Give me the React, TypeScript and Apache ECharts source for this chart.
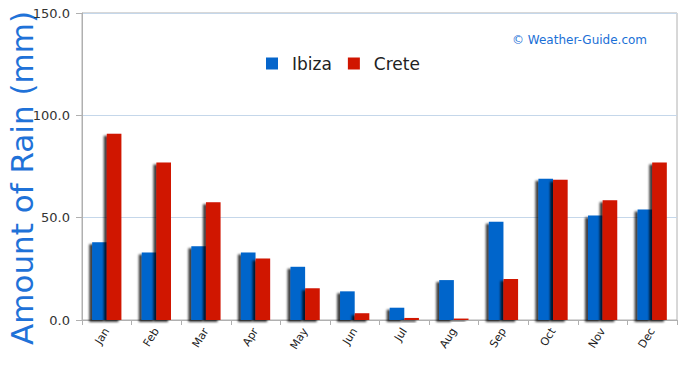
import React, { useEffect, useRef } from "react";
import * as echarts from "echarts";

const months = ["Jan", "Feb", "Mar", "Apr", "May", "Jun", "Jul", "Aug", "Sep", "Oct", "Nov", "Dec"];
const ibiza = [38, 33, 36, 33, 26, 14, 6, 19.5, 48, 69, 51, 54];
const crete = [91, 77, 57.5, 30, 15.5, 3.3, 1, 0.7, 20, 68.5, 58.5, 77];
const seriesNames = ["Ibiza", "Crete"];
const yTitle = "Amount of Rain (mm)";
const watermark = "© Weather-Guide.com";

const shadow = {
  shadowColor: "rgba(0,0,0,0.75)",
  shadowBlur: 2,
  shadowOffsetX: -3,
  shadowOffsetY: 2,
};

export default function App() {
  const ref = useRef<HTMLDivElement>(null);
  useEffect(() => {
    if (!ref.current) return;
    const chart = echarts.init(ref.current, null, { renderer: "svg" });
    chart.setOption({
      animation: false,
      backgroundColor: "#ffffff",
      grid: {
        left: 82,
        right: 13,
        top: 13,
        bottom: 45,
        show: true,
        borderColor: "#b0b0b0",
        borderWidth: 1,
        outerBoundsMode: "none",
        containLabel: false,
      },
      legend: {
        top: 50,
        left: 261,
        itemWidth: 12,
        itemHeight: 12,
        itemGap: 16,
        icon: "rect",
        textStyle: {
          fontSize: 17,
          color: "#222",
          fontFamily: "DejaVu Sans",
          padding: [0, 0, 0, 9],
        },
        data: seriesNames,
      },
      graphic: [
        {
          type: "text",
          left: 512,
          top: 34,
          style: {
            text: watermark,
            fill: "#1a6fd6",
            fontSize: 12,
            fontFamily: "DejaVu Sans",
          },
        },
        {
          type: "text",
          x: 22,
          y: 178,
          rotation: Math.PI / 2,
          style: {
            text: yTitle,
            fill: "#1f72d8",
            fontSize: 31,
            fontFamily: "DejaVu Sans",
            align: "center",
            verticalAlign: "middle",
          },
        },
      ],
      xAxis: {
        type: "category",
        data: months,
        axisLine: { lineStyle: { color: "#b0b0b0" } },
        axisTick: { show: true, length: 5, lineStyle: { color: "#b0b0b0" } },
        axisLabel: {
          rotate: 58,
          fontSize: 11,
          color: "#222",
          margin: 9,
          fontFamily: "DejaVu Sans",
        },
      },
      yAxis: {
        type: "value",
        min: 0,
        max: 150,
        interval: 50,
        axisLine: { show: true, lineStyle: { color: "#b0b0b0" } },
        axisTick: { show: true, length: 6, lineStyle: { color: "#b0b0b0" } },
        axisLabel: {
          formatter: (v: number) => v.toFixed(1),
          fontSize: 13,
          color: "#333",
          margin: 12,
          fontFamily: "DejaVu Sans",
        },
        splitLine: { show: true, lineStyle: { color: "#c5d7ea" } },
      },
      series: [
        {
          name: seriesNames[0],
          type: "bar",
          data: ibiza,
          barGap: "0%",
          barCategoryGap: "41%",
          itemStyle: { color: "#0565cb", ...shadow },
        },
        {
          name: seriesNames[1],
          type: "bar",
          data: crete,
          itemStyle: { color: "#d01500", ...shadow },
        },
      ],
    });
    return () => chart.dispose();
  }, []);
  return <div ref={ref} style={{ width: 690, height: 365, position: "absolute", left: 0, top: 0 }} />;
}
